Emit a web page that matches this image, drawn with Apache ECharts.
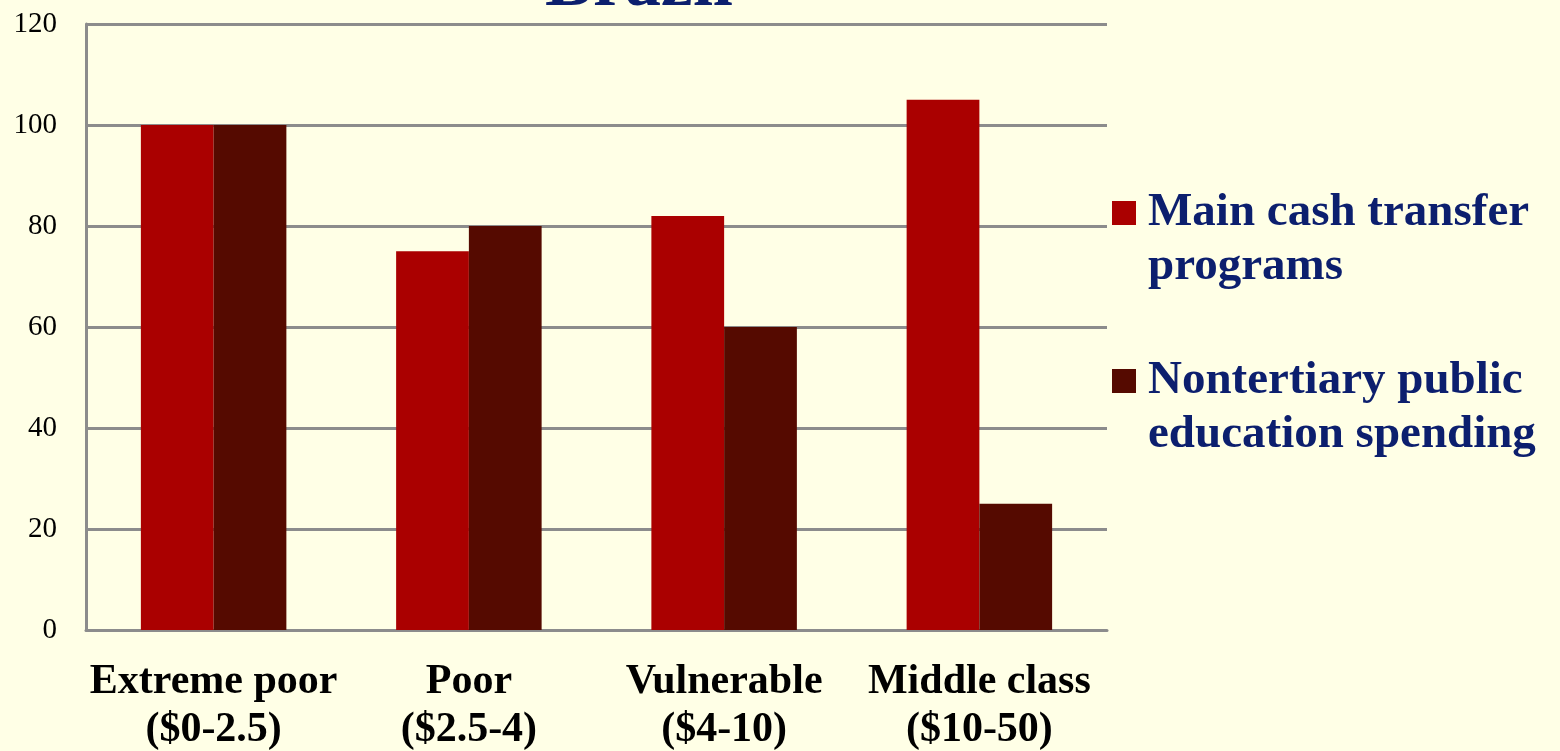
<!DOCTYPE html>
<html>
<head>
<meta charset="utf-8">
<style>
  html, body { margin: 0; padding: 0; background: #ffffe6; }
  #chart { width: 1560px; height: 751px; }
</style>
<script src="https://cdn.jsdelivr.net/npm/echarts@6/dist/echarts.min.js"></script>
</head>
<body>
<div id="chart"></div>
<script>
// Income groups (daily income per capita)
const categories = ['Extreme poor\n($0-2.5)', 'Poor\n($2.5-4)', 'Vulnerable\n($4-10)', 'Middle class\n($10-50)'];
const seriesNames = ['Main cash transfer programs', 'Nontertiary public education spending'];
const legendLabels = ['Main cash transfer\nprograms', 'Nontertiary public\neducation spending'];
const cashTransfer = [100, 75, 82, 105];
const educationSpending = [100, 80, 60, 25];
const yTicks = { min: 0, max: 120, step: 20 };

const serif = '"Liberation Serif", "Times New Roman", serif';
const navy = '#0c1f6e';
const gridGray = '#8c8c8c';

// Legend swatch: a 24px square at the top of a taller box, so it lines up with the first text line
const swatch = 'path://M0,0h24v24h-24z M31,78 L31,78';

const chart = echarts.init(document.getElementById('chart'));
chart.setOption({
  backgroundColor: '#ffffe6',
  animation: false,
  title: {
    text: 'Brazil',
    left: 540,
    top: -55,
    textStyle: { fontFamily: serif, fontSize: 72, fontWeight: 'bold', color: navy }
  },
  legend: {
    orient: 'vertical',
    left: 1112,
    top: 186,
    padding: 0,
    itemGap: 60,
    itemWidth: 31,
    itemHeight: 78,
    icon: swatch,
    data: seriesNames,
    formatter: name => legendLabels[seriesNames.indexOf(name)],
    textStyle: { fontFamily: serif, fontSize: 47, fontWeight: 'bold', color: navy, lineHeight: 54 }
  },
  grid: { left: 86, right: 453, top: 24, bottom: 121, containLabel: false, outerBoundsMode: 'none' },
  xAxis: {
    type: 'category',
    data: categories,
    axisLine: { lineStyle: { color: gridGray, width: 3 } },
    axisTick: { show: false },
    axisLabel: {
      margin: 28,
      fontFamily: serif, fontSize: 42, fontWeight: 'bold', color: '#000', lineHeight: 48,
      interval: 0
    }
  },
  yAxis: {
    type: 'value',
    min: yTicks.min,
    max: yTicks.max,
    interval: yTicks.step,
    axisLine: { show: true, lineStyle: { color: gridGray, width: 3 } },
    axisTick: { show: false },
    splitLine: { lineStyle: { color: gridGray, width: 3 } },
    axisLabel: { margin: 29, fontFamily: serif, fontSize: 29, color: '#000' }
  },
  series: [
    {
      name: seriesNames[0],
      type: 'bar',
      data: cashTransfer,
      itemStyle: { color: '#aa0000' },
      barGap: '0%',
      barCategoryGap: '43%'
    },
    {
      name: seriesNames[1],
      type: 'bar',
      data: educationSpending,
      itemStyle: { color: '#550a00' }
    }
  ]
});
</script>
</body>
</html>
